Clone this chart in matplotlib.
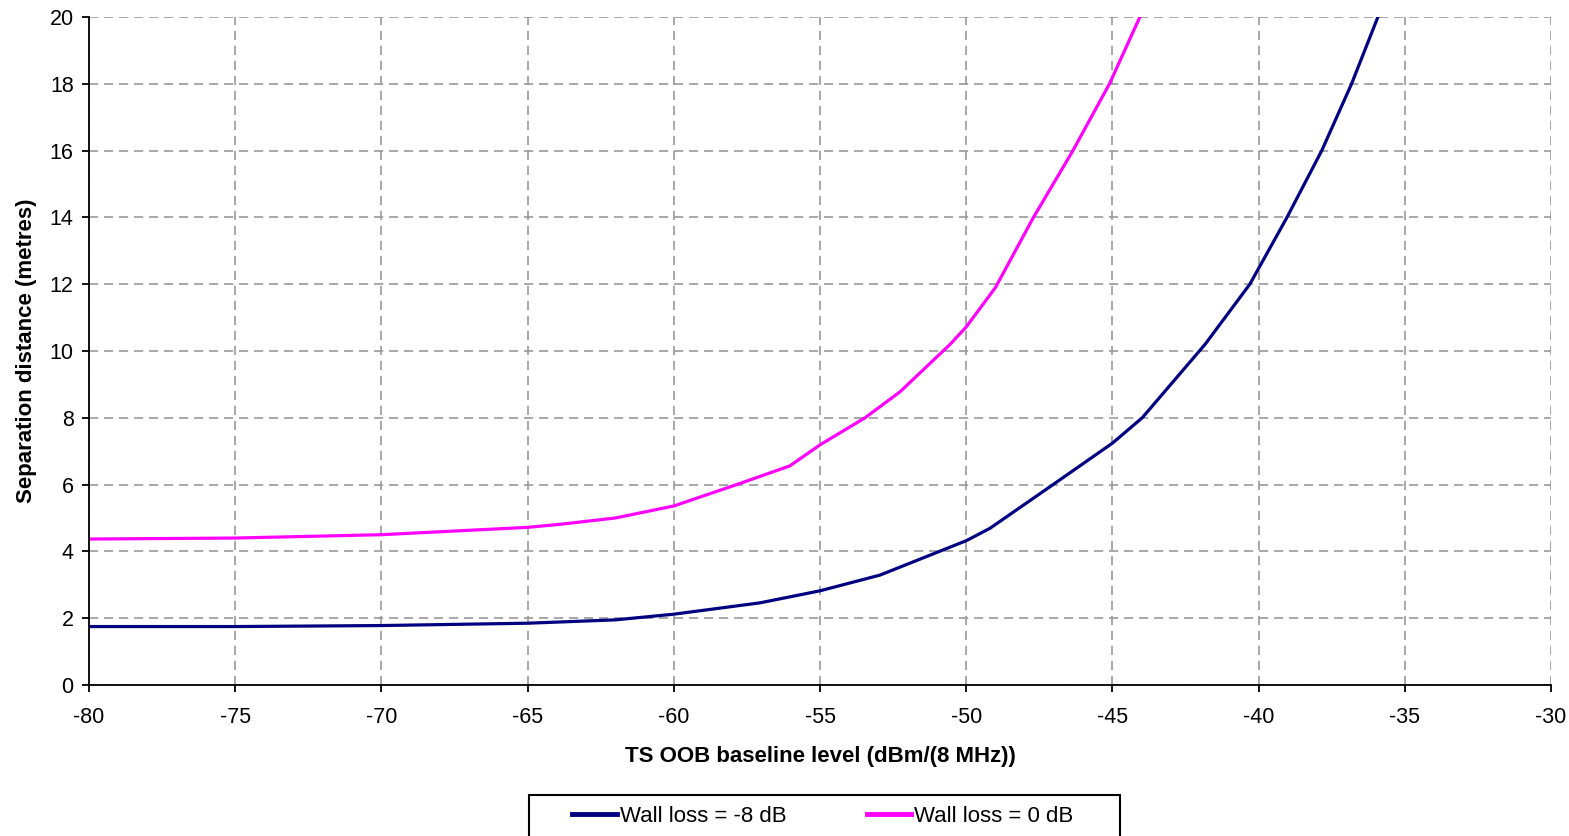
import matplotlib
matplotlib.use("Agg")
import matplotlib.pyplot as plt
from matplotlib.patches import Rectangle

# Data
x_navy = [-80, -75, -70, -65, -62, -60, -57.05, -55, -52.95, -50, -49.19, -47.03, -45, -43.98, -41.83, -40.3, -39.03, -37.84, -36.82, -35.92]
y_navy = [1.75, 1.75, 1.78, 1.85, 1.95, 2.12, 2.46, 2.82, 3.29, 4.32, 4.69, 6.0, 7.24, 8.0, 10.2, 12.0, 14.0, 16.0, 18.0, 20.0]

x_mag = [-80, -75, -70, -65, -63.9, -62, -60, -57.85, -56.03, -55, -53.46, -52.26, -50.55, -50, -49, -47.7, -46.35, -45.1, -44.06]
y_mag = [4.37, 4.4, 4.5, 4.72, 4.81, 5.0, 5.36, 6.0, 6.56, 7.19, 8.0, 8.78, 10.2, 10.72, 11.9, 14.0, 16.0, 18.0, 20.0]

xticks = [-80, -75, -70, -65, -60, -55, -50, -45, -40, -35, -30]
yticks = [0, 2, 4, 6, 8, 10, 12, 14, 16, 18, 20]

label_navy = "Wall loss = -8 dB"
label_mag = "Wall loss = 0 dB"
xlabel = "TS OOB baseline level (dBm/(8 MHz))"
ylabel = "Separation distance (metres)"

plt.rcParams['font.family'] = ['Liberation Sans', 'DejaVu Sans']

fig = plt.figure(figsize=(15.69, 8.36), dpi=100)
ax = fig.add_axes([89/1569, 1-685/836, (1551-89)/1569, (685-17)/836])

ax.plot(x_navy, y_navy, color="#000080", lw=2.3, label=label_navy)
ax.plot(x_mag, y_mag, color="#FF00FF", lw=2.3, label=label_mag)

ax.set_xlim(-80, -30)
ax.set_ylim(0, 20)
ax.set_xticks(xticks)
ax.set_yticks(yticks)
ax.set_xticklabels([str(v) for v in xticks])
ax.set_yticklabels([str(v) for v in yticks])
ax.tick_params(axis='x', direction='out', length=5, width=1.3, labelsize=15.5, pad=11)
ax.tick_params(axis='y', direction='out', length=5, width=1.3, labelsize=15.5, pad=6)
ax.grid(True, color="#999999", linestyle=(0, (5.5, 3.5)), linewidth=1.2)
ax.set_axisbelow(True)
for s in ['top', 'right']:
    ax.spines[s].set_visible(False)
for s in ['left', 'bottom']:
    ax.spines[s].set_linewidth(1.3)
    ax.spines[s].set_color('black')

ax.set_xlabel(xlabel, fontsize=16, fontweight='bold', labelpad=13)
ax.set_ylabel(ylabel, fontsize=16, fontweight='bold', labelpad=9)

# legend box (extends past the bottom edge as in the reference)
fig.patches.append(Rectangle((529/1569, -0.05), (1120-529)/1569, (1-795/836)+0.05,
                             transform=fig.transFigure, fill=False,
                             edgecolor='black', lw=1.5, clip_on=False))
leg = fig.legend(loc='center', bbox_to_anchor=(823/1569, 1-816/836), ncol=2,
                 frameon=False, fontsize=16,
                 handlelength=2.0, handletextpad=0.15, columnspacing=3.6,
                 borderpad=0.0, borderaxespad=0)
for l in leg.get_lines():
    l.set_linewidth(3.5)

fig.savefig("out.png", dpi=100)
